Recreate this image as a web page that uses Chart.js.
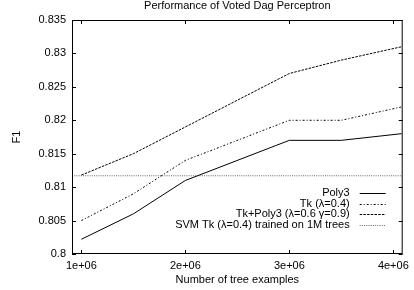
<!DOCTYPE html>
<html>
<head>
<meta charset="utf-8">
<script src="https://cdn.jsdelivr.net/npm/chart.js@4"></script>
<style>
  html, body { margin: 0; padding: 0; background: #fff; }
  #wrap { width: 414px; height: 290px; }
</style>
</head>
<body>
<div id="wrap"><canvas id="chart" width="414" height="290"></canvas></div>
<script>
// x positions (number of tree examples)
const examples = [1000000, 1500000, 2000000, 3000000, 3500000, 4080000];
const poly3 = [0.8022, 0.806, 0.811, 0.817, 0.817, 0.818];
const tk = [0.805, 0.809, 0.814, 0.820, 0.820, 0.822];
const tkPoly3 = [0.8118, 0.815, 0.819, 0.827, 0.829, 0.831];
const svmBaseline = 0.8117;

const xTicks = [1000000, 2000000, 3000000, 4000000];
const yTicks = [0.8, 0.805, 0.81, 0.815, 0.82, 0.825, 0.83, 0.835];

const font = "'Liberation Sans', Arial, sans-serif";
const titleText = 'Performance of Voted Dag Perceptron';

const series = [
    { label: 'Poly3', values: poly3, dash: [] },
    { label: 'Tk (\u03bb=0.4)', values: tk, dash: [2, 2, 1, 2] },
    { label: 'Tk+Poly3 (\u03bb=0.6 \u03b3=0.9)', values: tkPoly3, dash: [2.5, 1.2] },
    { label: 'SVM Tk (\u03bb=0.4) trained on 1M trees', values: null, dash: [1, 1.2] }
];

const toPoints = (vals) => examples.map((x, i) => ({ x: x, y: vals[i] }));

const datasets = series.map(s => ({
    label: s.label,
    data: s.values ? toPoints(s.values) : [{ x: 910000, y: svmBaseline }, { x: 4090000, y: svmBaseline }],
    borderColor: s.values ? '#000' : '#666',
    borderWidth: 1,
    borderDash: s.dash,
    pointRadius: 0,
    tension: 0,
    fill: false
}));

// gnuplot-like frame with inward ticks on all four sides, title over the plot
const framePlugin = {
    id: 'frame',
    afterDraw(chart) {
        const { ctx, chartArea: a, scales } = chart;
        ctx.save();
        ctx.strokeStyle = '#000';
        ctx.lineWidth = 1;
        ctx.setLineDash([]);
        ctx.strokeRect(a.left + 0.5, a.top + 0.5, a.right - a.left - 1, a.bottom - a.top - 1);
        ctx.beginPath();
        xTicks.forEach(v => {
            const px = Math.round(scales.x.getPixelForValue(v)) + 0.5;
            ctx.moveTo(px, a.bottom); ctx.lineTo(px, a.bottom - 4);
            ctx.moveTo(px, a.top); ctx.lineTo(px, a.top + 4);
        });
        yTicks.forEach(v => {
            const py = Math.round(scales.y.getPixelForValue(v)) + 0.5;
            ctx.moveTo(a.left, py); ctx.lineTo(a.left + 4, py);
            ctx.moveTo(a.right, py); ctx.lineTo(a.right - 4, py);
        });
        ctx.stroke();

        ctx.font = '11px ' + font;
        ctx.fillStyle = '#000';
        ctx.textAlign = 'center';
        ctx.textBaseline = 'middle';
        ctx.fillText(titleText, (a.left + a.right) / 2, a.top - 14.5);
        ctx.restore();
    }
};

// legend inside the plot, bottom right, text right-aligned before the sample
const legendPlugin = {
    id: 'innerLegend',
    afterDatasetsDraw(chart) {
        const { ctx, chartArea: a } = chart;
        ctx.save();
        ctx.font = '11px ' + font;
        ctx.fillStyle = '#000';
        ctx.textAlign = 'right';
        ctx.textBaseline = 'middle';
        chart.data.datasets.forEach((ds, i) => {
            const y = a.bottom - 61 + i * 10.7;
            ctx.fillText(ds.label, a.right - 53, y);
            ctx.beginPath();
            ctx.strokeStyle = ds.borderColor;
            ctx.lineWidth = 1;
            ctx.setLineDash(ds.borderDash);
            ctx.moveTo(a.right - 43, Math.round(y) + 0.5);
            ctx.lineTo(a.right - 17, Math.round(y) + 0.5);
            ctx.stroke();
        });
        ctx.restore();
    }
};

new Chart(document.getElementById('chart'), {
    type: 'line',
    data: { datasets: datasets },
    options: {
        responsive: false,
        animation: false,
        layout: { padding: { top: 20, right: 8, bottom: 0, left: 0 } },
        plugins: {
            legend: { display: false },
            tooltip: { enabled: false },
            title: { display: false }
        },
        scales: {
            x: {
                type: 'linear',
                min: 910000,
                max: 4090000,
                afterFit(scale) { scale.height = 36; },
                afterBuildTicks(scale) { scale.ticks = xTicks.map(v => ({ value: v })); },
                grid: { display: true, drawOnChartArea: false, drawTicks: false },
                border: { display: false },
                ticks: {
                    color: '#000',
                    font: { family: font, size: 11 },
                    padding: 5,
                    maxRotation: 0,
                    callback: v => (v / 1e6) + 'e+06'
                },
                title: {
                    display: true,
                    text: 'Number of tree examples',
                    color: '#000',
                    font: { family: font, size: 11 },
                    padding: { top: 0, bottom: 3 }
                }
            },
            y: {
                min: 0.8,
                max: 0.835,
                afterFit(scale) { scale.width = 72; },
                afterBuildTicks(scale) { scale.ticks = yTicks.map(v => ({ value: v })); },
                grid: { display: true, drawOnChartArea: false, drawTicks: false },
                border: { display: false },
                ticks: {
                    color: '#000',
                    font: { family: font, size: 11 },
                    padding: 6,
                    callback: v => String(parseFloat(v.toFixed(3)))
                },
                title: {
                    display: true,
                    text: 'F1',
                    color: '#000',
                    font: { family: font, size: 11 },
                    padding: { top: 10, bottom: 0 }
                }
            }
        }
    },
    plugins: [framePlugin, legendPlugin]
});
</script>
</body>
</html>
